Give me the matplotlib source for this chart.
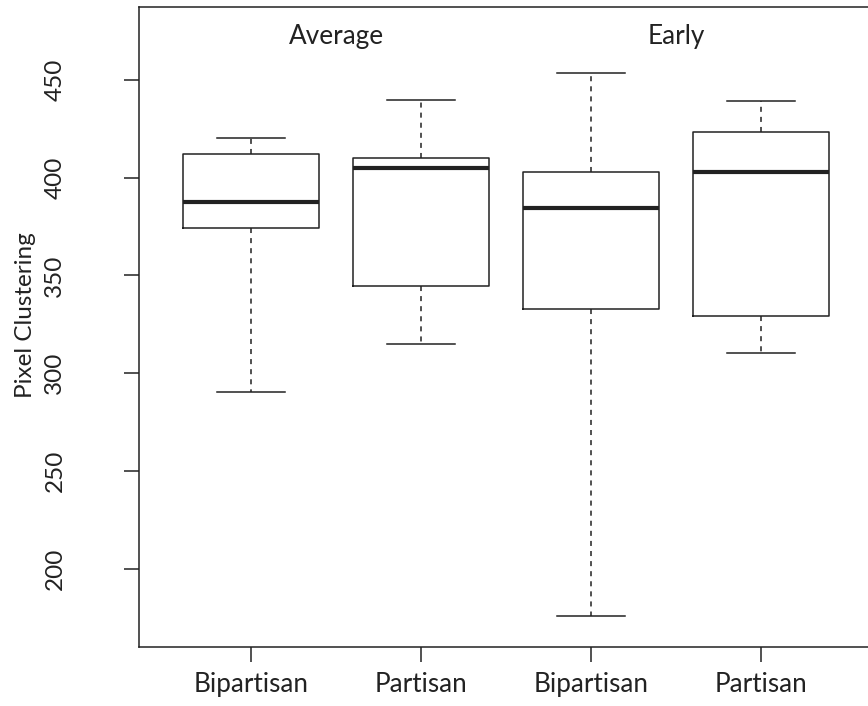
import matplotlib
matplotlib.use("Agg")
import matplotlib.pyplot as plt

# Data
categories = ["Bipartisan", "Partisan", "Bipartisan", "Partisan"]
groups = ["Average", "Early"]
whislo = [290.5, 315.1, 176.0, 310.4]
q1 = [374.3, 344.4, 332.7, 329.3]
med = [387.6, 405.0, 384.4, 402.7]
q3 = [412.1, 410.0, 403.1, 423.6]
whishi = [420.2, 439.6, 453.7, 439.1]
yticks = [200, 250, 300, 350, 400, 450]

plt.rcParams['font.family'] = ['Lato', 'DejaVu Sans']
col = '#222222'
fs = 17.5
fs_x = 18.8

fig = plt.figure(figsize=(8.68, 7.06), dpi=100)
ax = fig.add_axes([139/868, (706-647.3)/706, (873-139)/868, (647.3-6.7)/706])

stats = []
for i in range(len(categories)):
    stats.append(dict(label=categories[i], whislo=whislo[i], q1=q1[i], med=med[i],
                      q3=q3[i], whishi=whishi[i], fliers=[]))

ax.bxp(stats, positions=[1, 2, 3, 4], widths=0.8, capwidths=0.4, showfliers=False,
       boxprops=dict(color=col, linewidth=1.1),
       medianprops=dict(color=col, linewidth=3.0, solid_capstyle='butt'),
       whiskerprops=dict(color=col, linewidth=1.1, linestyle=(0, (3.3, 3.3))),
       capprops=dict(color=col, linewidth=1.1))

ax.set_xlim(0.34, 4.66)
ax.set_ylim(159.8, 487.5)
ax.set_yticks(yticks)
ax.set_yticklabels([str(v) for v in yticks])
ax.set_xticks([1, 2, 3, 4])
ax.set_xticklabels(categories)

for s in ax.spines.values():
    s.set_color(col)
    s.set_linewidth(1.1)

ax.tick_params(axis='y', length=11, width=1.1, color=col, labelsize=fs,
               labelrotation=90, pad=42, labelcolor=col)
ax.tick_params(axis='x', length=11, width=1.1, color=col, labelsize=fs_x,
               pad=7, labelcolor=col)
for lab in ax.get_yticklabels():
    lab.set_va('center')

ax.set_ylabel("Pixel Clustering", fontsize=fs, color=col, labelpad=4)
ax.yaxis.set_label_coords(-0.141, 0.519)

ax.text(1.5, 472.1, groups[0], ha='center', va='center', fontsize=fs_x, color=col)
ax.text(3.5, 472.1, groups[1], ha='center', va='center', fontsize=fs_x, color=col)

fig.savefig("out.png", dpi=100)
